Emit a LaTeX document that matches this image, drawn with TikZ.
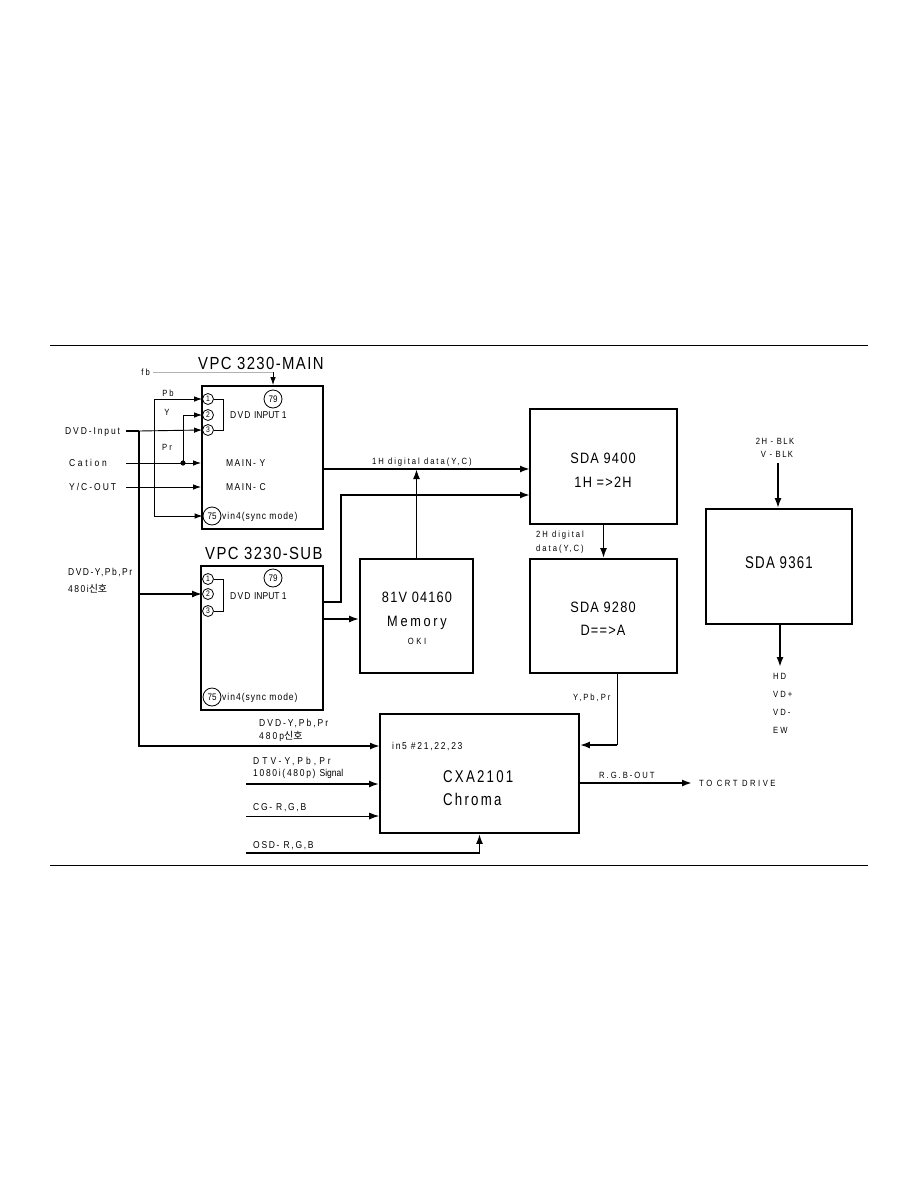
\documentclass[tikz,border=0pt]{standalone}
\usepackage{fontspec}
\setmainfont{Liberation Sans}[FakeStretch=0.85]
\newfontfamily\lsp{Liberation Sans}[FakeStretch=0.85,LetterSpace=22]
\newfontfamily\lmd{Liberation Sans}[FakeStretch=0.85,LetterSpace=17]
\newfontfamily\ltl{Liberation Sans}[FakeStretch=0.85,LetterSpace=8]
\newfontfamily\lhg{Liberation Sans}[FakeStretch=0.78,LetterSpace=7]
\newfontfamily\kr{Noto Sans CJK KR}
\newcommand{\plainf}{\fontspec{Liberation Sans}[FakeStretch=0.85]}
\newcommand{\lspc}[1]{\addfontfeature{LetterSpace=#1}}
\usetikzlibrary{arrows.meta}
\begin{document}
\begin{tikzpicture}[x=1pt,y=-1pt,
  box/.style={draw,line width=1.8pt,inner sep=0pt},
  thn/.style={line width=0.9pt},
  thk/.style={line width=1.8pt},
  tipS/.style={-{Latex[length=8pt,width=5.5pt]}},
  tipL/.style={-{Latex[length=10pt,width=7pt]}},
  ls/.style={inner sep=0pt,text height=6.5pt,text depth=0pt,font=\lsp\fontsize{9}{11}\selectfont},
  lm/.style={inner sep=0pt,text height=7.2pt,text depth=0pt,font=\lmd\fontsize{10}{12}\selectfont},
  lbig/.style={inner sep=0pt,text height=10.7pt,text depth=0pt,font=\ltl\fontsize{15}{18}\selectfont},
  ltitle/.style={inner sep=0pt,text height=12.5pt,text depth=0pt,font=\ltl\fontsize{17.5}{20}\selectfont},
  lhuge/.style={inner sep=0pt,text height=12.3pt,text depth=0pt,font=\lhg\fontsize{17}{20}\selectfont},
  pin/.style={circle,draw,line width=0.8pt,inner sep=0pt,minimum size=11pt,font=\fontsize{8}{9}\selectfont},
  bpin/.style={circle,draw,line width=0.8pt,inner sep=0pt,minimum size=18pt,font=\fontsize{9.5}{10}\selectfont},
  rule/.style={line width=0.9pt}]
\useasboundingbox (0,0) rectangle (918,1188);

% page rules
\coordinate (rtl) at (50,345); \coordinate (rtr) at (868,345);
\coordinate (rbl) at (50,865); \coordinate (rbr) at (868,865);
\draw[rule] (rtl) -- (rtr);
\draw[rule] (rbl) -- (rbr);

% boxes
\node[box,minimum width=121pt,minimum height=143pt] (main) at (262.5,457.5) {};
\node[box,minimum width=122pt,minimum height=144pt] (sub) at (262,638) {};
\node[box,minimum width=113pt,minimum height=114pt] (mem) at (416.5,616) {};
\node[box,minimum width=147pt,minimum height=115pt] (s94) at (603.5,466.5) {};
\node[box,minimum width=147pt,minimum height=114pt] (s92) at (603.5,616) {};
\node[box,minimum width=146pt,minimum height=115pt] (s61) at (779,566.5) {};
\node[box,minimum width=199pt,minimum height=119pt] (cxa) at (479.5,773.5) {};

% titles
\node[ltitle,anchor=west] (tmain) at (198,363) {VPC 3230-MAIN};
\node[ltitle,anchor=west] (tsub) at (205,553) {VPC 3230-SUB};

% MAIN pins
\node[pin] (m1) at (208,399) {1};
\node[pin] (m2) at (208,415) {2};
\node[pin] (m3) at (208,430) {3};
\node[bpin] (m79) at (273,399) {79};
\node[bpin] (m75) at (212,516) {75};
\coordinate (mb) at (223,399);
\draw[thn] (m1.east) -- (mb) |- (m3.east);
\node[lm,anchor=west] (mdvd) at (230,415) {\lspc{12}DVD {\plainf INPUT 1}};
\node[lm,anchor=west] (mainy) at (226,463) {\lspc{14}MAIN- Y};
\node[lm,anchor=west] (mainc) at (226,487) {\lspc{14}MAIN- C};
\node[lm,anchor=west] (mvin) at (222,516) {\lspc{10}vin4(sync mode)};

% SUB pins
\node[pin] (s1) at (208,579) {1};
\node[pin] (s2) at (208,594) {2};
\node[pin] (s3) at (208,611) {3};
\node[bpin] (s79) at (273,578) {79};
\node[bpin] (s75) at (212,697) {75};
\coordinate (sb) at (223,579);
\draw[thn] (s1.east) -- (sb) |- (s3.east);
\node[lm,anchor=west] (sdvd) at (230,596) {\lspc{12}DVD {\plainf INPUT 1}};
\node[lm,anchor=west] (svin) at (222,697) {\lspc{10}vin4(sync mode)};

% left labels
\node[ls,anchor=east] (fb) at (150,372) {fb};
\node[ls] (pb) at (168,393) {Pb};
\node[ls] (yl) at (167,412) {Y};
\node[ls] (pr) at (167,447) {Pr};
\node[lm,anchor=west] (dvdin) at (65,431) {\lspc{19}DVD-Input};
\node[lm,anchor=west] (cation) at (69,463) {\lspc{26}Cation};
\node[lm,anchor=west] (ycout) at (69,487) {\lspc{20}Y/C-OUT};
\node[lm,anchor=west] (d480i) at (68,572) {\lspc{15}DVD-Y,Pb,Pr};
\node[lm,anchor=west] (d480is) at (68,589) {\lspc{15}480i{\kr 신호}};
\node[lm,anchor=west] (d480p) at (259,723) {\lspc{20}DVD-Y,Pb,Pr};
\node[lm,anchor=west] (d480ps) at (259,736) {\lspc{20}480p{\kr 신호}};
\node[lm,anchor=west] (dtv) at (253,761) {\lspc{30}DTV-Y,Pb,Pr};
\node[lm,anchor=west] (dtvs) at (253,773) {\lspc{17}1080i(480p) {\plainf Signal}};
\node[lm,anchor=west] (cg) at (253,807) {\lspc{17}CG- R,G,B};
\node[lm,anchor=west] (osd) at (253,845) {\lspc{17}OSD- R,G,B};

% block texts
\node[ls,anchor=west] (l1h) at (372,461) {1H digital data(Y,C)};
\node[lbig] (t94a) at (603,458) {SDA 9400};
\node[lbig] (t94b) at (603,482) {1H =>2H};
\node[ls,anchor=west] (l2ha) at (536,534) {2H digital};
\node[ls,anchor=west] (l2hb) at (536,548) {data(Y,C)};
\node[lbig] (t92a) at (603,607) {SDA 9280};
\node[lbig] (t92b) at (603,630) {D==>A};
\node[lbig] (tma) at (417,597) {81V 04160};
\node[lbig] (tmb) at (417,621) {\lspc{18}Memory};
\node[ls] (tmc) at (417,641) {\lspc{29}OKI};
\node[ls] (blk1) at (775,441) {\lspc{16}2H - BLK};
\node[ls] (blk2) at (777,454) {\lspc{16}V - BLK};
\node[lhuge] (t61) at (779,562) {SDA 9361};
\node[ls,anchor=west] (hd) at (773,676) {HD};
\node[ls,anchor=west] (vdp) at (773,694) {VD+};
\node[ls,anchor=west] (vdm) at (773,712) {VD-};
\node[ls,anchor=west] (ew) at (773,730) {EW};
\node[ls,anchor=west] (ypbpr) at (573,697) {Y,Pb,Pr};
\node[lm,anchor=west] (in5) at (392,746) {in5 \#21,22,23};
\node[lhuge,anchor=west] (tcxa) at (443,776) {\lspc{13}CXA2101};
\node[lhuge,anchor=west] (tchr) at (443,799) {\lspc{13}Chroma};
\node[ls,anchor=west] (rgbl) at (599,775) {R.G.B-OUT};
\node[ls,anchor=west] (crt) at (699,783) {\lspc{28}TO CRT DRIVE};

% connectors
\coordinate (fbc) at (273,372);
\draw[thn,gray!60] ([xshift=3pt]fb.east) -- (fbc);
\draw[thn,tipS] (fbc) -- (fbc |- main.north);

\coordinate (pbc) at (154,399);
\draw[thn,tipS] (pbc) -- (m1.west);
\draw[thn,tipS] (pbc) |- (m75.west);

\coordinate (yc) at (183,415);
\coordinate (dot) at (183,463);
\draw[thn,tipS] (yc) -- (m2.west);
\draw[thn] (yc) -- (dot);
\fill (dot) circle (2.6pt);

\coordinate (dvdS) at (126,431);
\coordinate (dvdV) at (139,431);
\draw[thk] (dvdS) -- (dvdV);
\draw[thn,tipS] (dvdV) -- (m3.west);
\coordinate (in5p) at (380,746);
\draw[thk,tipL] (dvdV) |- (in5p);
\draw[thk,tipL] (dvdV |- s2) -- (s2.west);

\coordinate (cs) at (126,463);
\draw[thn,tipS] (cs) -- (cs -| main.west);
\coordinate (ys) at (126,487);
\draw[thn,tipS] (ys) -- (ys -| main.west);

\coordinate (in94a) at (530,469);
\draw[thk,tipL] (main.east |- in94a) -- (in94a);
\draw[thk,tipL] (mem.north) -- (mem.north |- in94a);
\coordinate (so1) at (323,602);
\coordinate (so2) at (341,495);
\coordinate (in94b) at (530,495);
\draw[thk,tipL] (so1) -| (so2) -- (in94b);
\coordinate (sm) at (323,619);
\draw[thk,tipL] (sm) -- (sm -| mem.west);

\draw[thk,tipL] (s94.south) -- (s92.north);
\coordinate (ypc) at (617,745);
\draw[thn] (s92.south -| ypc) -- (ypc);
\draw[thk,tipL] (ypc) -- (ypc -| cxa.east);

\coordinate (dtvS) at (246,784);
\draw[thk,tipL] (dtvS) -- (dtvS -| cxa.west);
\coordinate (cgS) at (246,816);
\draw[thn,tipL] (cgS) -- (cgS -| cxa.west);
\coordinate (osdS) at (246,853);
\draw[thk,tipL] (osdS) -| (cxa.south);

\coordinate (rgbE) at (692,783);
\draw[thk,tipL] (rgbE -| cxa.east) -- (rgbE);

\coordinate (blk) at (778,463);
\draw[thk,tipL] (blk) -- (blk |- s61.north);
\coordinate (hdc) at (780,667);
\draw[thk,tipL] (hdc |- s61.south) -- (hdc);
\end{tikzpicture}
\end{document}
